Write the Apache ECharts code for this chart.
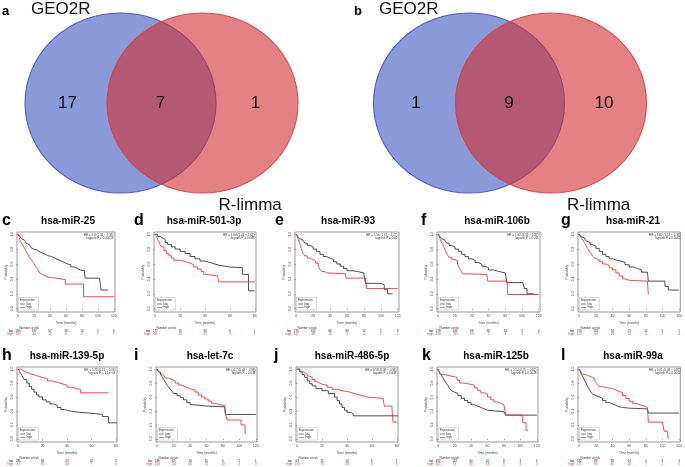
<!DOCTYPE html>
<html><head><meta charset="utf-8">
<script src="https://cdn.jsdelivr.net/npm/echarts@6/dist/echarts.min.js"></script>
<style>html,body{margin:0;padding:0;background:#fff}#chart{width:685px;height:467px}</style>
</head><body><div id="chart"></div>
<script>
// ---------------- DATA ----------------
const vennSets = ['GEO2R', 'R-limma'];
const vennA = [17, 7, 1];   // only GEO2R, both, only R-limma
const vennB = [1, 9, 10];

const ticks120 = [0, 20, 40, 60, 80, 100, 120];
const ticks80 = [0, 20, 40, 60, 80];
const probTicks = [0, 0.2, 0.4, 0.6, 0.8, 1];

const panelLetters = ['c', 'd', 'e', 'f', 'g', 'h', 'i', 'j', 'k', 'l'];
const panelTitles = ['hsa-miR-25', 'hsa-miR-501-3p', 'hsa-miR-93', 'hsa-miR-106b', 'hsa-miR-21',
  'hsa-miR-139-5p', 'hsa-let-7c', 'hsa-miR-486-5p', 'hsa-miR-125b', 'hsa-miR-99a'];
const hrLabels = ['HR = 1.8 (1.32 \u2212 2.33)', 'HR = 1.64 (1.01 \u2212 2.65)', 'HR = 1.56 (1.07 \u2212 2.27)',
  'HR = 1.62 (1.11 \u2212 2.37)', 'HR = 1.62 (1.13 \u2212 2.33)', 'HR = 0.28 (0.13 \u2212 0.59)',
  'HR = 0.7 (0.49 \u2212 0.98)', 'HR = 0.59 (0.36 \u2212 0.96)', 'HR = 0.54 (0.35 \u2212 0.82)', 'HR = 0.61 (0.43 \u2212 0.87)'];
const pLabels = ['logrank P = 0.00059', 'logrank P = 0.043', 'logrank P = 0.02', 'logrank P = 0.011',
  'logrank P = 0.0085', 'logrank P = 1.1e\u221204', 'logrank P = 0.039', 'logrank P = 0.033',
  'logrank P = 0.0038', 'logrank P = 0.0062'];

// survival curves [time (months), probability]
const survC_low = [[0,1],[2,0.97],[4,0.94],[6,0.92],[8,0.90],[10,0.88],[12,0.86],[14,0.84],[16,0.82],[18,0.80],[20,0.79],[23,0.77],[26,0.75],[30,0.73],[34,0.71],[38,0.70],[42,0.68],[46,0.66],[50,0.64],[54,0.62],[58,0.60],[62,0.59],[66,0.56],[70,0.54],[74,0.52],[78,0.51],[83,0.50],[84,0.41],[102,0.41],[104,0.25],[113,0.25]];
const survC_high = [[0,1],[1,0.96],[2,0.93],[3,0.90],[5,0.87],[7,0.83],[9,0.79],[11,0.75],[13,0.71],[15,0.68],[17,0.65],[19,0.62],[21,0.58],[23,0.55],[25,0.52],[27,0.48],[29,0.46],[31,0.44],[34,0.42],[38,0.41],[48,0.39],[59,0.33],[82,0.16],[121,0.16]];
const survD_low = [[0,1],[2,0.97],[4,0.95],[6,0.93],[8,0.89],[10,0.86],[13,0.83],[16,0.80],[20,0.77],[24,0.74],[28,0.70],[32,0.67],[36,0.64],[40,0.62],[44,0.60],[48,0.58],[52,0.56],[60,0.55],[70,0.46],[75,0.24],[80,0.24]];
const survD_high = [[0,1],[1,0.97],[2,0.93],[3,0.90],[4,0.86],[5,0.83],[7,0.78],[9,0.74],[11,0.71],[13,0.68],[15,0.65],[20,0.63],[25,0.61],[28,0.59],[31,0.56],[34,0.53],[37,0.50],[39,0.46],[41,0.44],[50,0.43],[51,0.36],[80,0.36]];
const survE_low = [[0,1],[2,0.97],[4,0.94],[6,0.92],[8,0.90],[10,0.88],[13,0.85],[16,0.83],[20,0.80],[24,0.77],[28,0.73],[32,0.70],[36,0.68],[40,0.66],[44,0.63],[48,0.60],[52,0.57],[56,0.54],[60,0.51],[66,0.50],[72,0.48],[80,0.45],[82,0.34],[100,0.32],[104,0.26],[108,0.20],[114,0.20]];
const survE_high = [[0,1],[1,0.97],[2,0.94],[3,0.91],[4,0.88],[5,0.85],[6,0.81],[7,0.77],[8,0.74],[10,0.71],[13,0.68],[16,0.66],[20,0.64],[23,0.61],[26,0.57],[28,0.53],[30,0.50],[33,0.48],[36,0.47],[58,0.47],[59,0.41],[82,0.41],[83,0.27],[120,0.27]];
const survF_low = [[0,1],[2,0.97],[4,0.94],[6,0.92],[8,0.90],[10,0.88],[13,0.85],[16,0.83],[20,0.80],[24,0.77],[28,0.73],[32,0.70],[36,0.67],[40,0.65],[44,0.62],[48,0.60],[52,0.57],[56,0.55],[60,0.52],[66,0.50],[72,0.48],[80,0.46],[82,0.35],[101,0.35],[103,0.27],[106,0.20],[114,0.20]];
const survF_high = [[0,1],[1,0.97],[2,0.94],[3,0.91],[5,0.87],[7,0.82],[9,0.77],[11,0.72],[13,0.69],[16,0.66],[20,0.64],[23,0.60],[25,0.55],[27,0.51],[29,0.47],[31,0.46],[58,0.46],[59,0.37],[82,0.37],[83,0.19],[120,0.19]];
const survG_low = [[0,1],[2,0.97],[4,0.95],[6,0.93],[8,0.91],[10,0.89],[13,0.86],[16,0.84],[20,0.81],[24,0.77],[28,0.73],[32,0.70],[36,0.67],[40,0.65],[45,0.64],[50,0.62],[55,0.59],[60,0.56],[65,0.54],[70,0.52],[75,0.49],[82,0.47],[83,0.37],[100,0.37],[103,0.30],[107,0.25],[120,0.25]];
const survG_high = [[0,1],[2,0.96],[4,0.93],[6,0.89],[8,0.85],[10,0.81],[12,0.77],[14,0.74],[16,0.71],[18,0.68],[20,0.66],[24,0.63],[28,0.60],[32,0.58],[36,0.55],[40,0.52],[44,0.48],[48,0.44],[52,0.40],[56,0.38],[60,0.37],[82,0.37],[83,0.19]];
const survH_low = [[0,1],[1,0.97],[2,0.94],[3,0.91],[4,0.88],[5,0.85],[7,0.80],[9,0.75],[11,0.71],[13,0.67],[15,0.63],[17,0.60],[20,0.56],[23,0.53],[26,0.50],[29,0.48],[32,0.45],[35,0.42],[38,0.40],[42,0.38],[50,0.37],[58,0.35],[69,0.32],[74,0.23],[81,0.23]];
const survH_high = [[0,1],[2,0.98],[4,0.96],[6,0.95],[8,0.93],[10,0.92],[13,0.90],[16,0.88],[20,0.86],[24,0.83],[28,0.81],[32,0.79],[36,0.77],[40,0.74],[44,0.72],[48,0.71],[51,0.66],[74,0.66]];
const survI_low = [[0,1],[1,0.97],[2,0.95],[4,0.92],[6,0.89],[8,0.85],[10,0.81],[12,0.77],[14,0.74],[16,0.71],[18,0.68],[20,0.65],[24,0.62],[28,0.59],[32,0.56],[36,0.52],[40,0.49],[44,0.47],[60,0.46],[82,0.46],[83,0.35],[120,0.35]];
const survI_high = [[0,1],[2,0.96],[4,0.93],[6,0.91],[8,0.89],[10,0.87],[14,0.85],[18,0.83],[22,0.80],[26,0.77],[30,0.75],[34,0.73],[38,0.71],[42,0.70],[46,0.67],[50,0.63],[54,0.60],[58,0.57],[62,0.54],[66,0.51],[70,0.49],[76,0.48],[82,0.46],[83,0.37],[85,0.27],[102,0.20],[107,0.08],[108,0.08]];
const survJ_low = [[0,1],[2,0.96],[4,0.92],[6,0.88],[8,0.83],[10,0.79],[12,0.76],[15,0.72],[20,0.69],[25,0.65],[30,0.60],[32,0.55],[34,0.50],[36,0.45],[38,0.41],[40,0.38],[43,0.36],[45,0.33],[81,0.33]];
const survJ_high = [[0,1],[2,0.97],[4,0.95],[6,0.93],[8,0.90],[10,0.88],[12,0.85],[14,0.82],[16,0.80],[18,0.78],[20,0.77],[24,0.74],[28,0.71],[32,0.69],[36,0.68],[40,0.66],[44,0.64],[48,0.62],[52,0.60],[56,0.58],[69,0.58],[70,0.47],[76,0.47],[77,0.24],[80,0.24]];
const survK_low = [[0,1],[1,0.97],[2,0.94],[4,0.91],[6,0.87],[8,0.83],[10,0.79],[12,0.76],[14,0.72],[16,0.69],[18,0.67],[20,0.65],[24,0.62],[28,0.58],[32,0.55],[36,0.52],[40,0.49],[44,0.47],[48,0.45],[52,0.43],[56,0.41],[60,0.40],[70,0.39],[80,0.38],[82,0.34],[120,0.34]];
const survK_high = [[0,1],[1,0.96],[2,0.93],[4,0.92],[8,0.91],[12,0.90],[16,0.89],[20,0.88],[23,0.84],[26,0.80],[30,0.79],[36,0.78],[40,0.77],[44,0.73],[48,0.69],[52,0.66],[56,0.64],[60,0.60],[64,0.56],[68,0.53],[72,0.51],[76,0.49],[80,0.48],[82,0.34],[102,0.34],[103,0.23],[107,0.12],[109,0.12]];
const survL_low = [[0,1],[1,0.97],[2,0.94],[4,0.90],[6,0.85],[8,0.80],[10,0.75],[12,0.71],[14,0.67],[16,0.64],[18,0.62],[20,0.60],[24,0.58],[28,0.55],[32,0.52],[36,0.50],[40,0.48],[44,0.46],[48,0.45],[52,0.44],[60,0.43],[82,0.43],[83,0.37],[120,0.37]];
const survL_high = [[0,1],[2,0.96],[4,0.93],[6,0.91],[10,0.89],[14,0.87],[18,0.84],[20,0.81],[22,0.78],[24,0.75],[28,0.73],[34,0.72],[40,0.70],[44,0.68],[48,0.66],[52,0.62],[56,0.58],[60,0.54],[64,0.51],[68,0.49],[72,0.47],[78,0.45],[82,0.44],[83,0.24],[100,0.24],[102,0.11],[106,0.11],[107,0]];

// numbers at risk
const riskC_low = [260, 137, 67, 30, 12, 5, 0];   const riskC_high = [137, 44, 17, 6, 4, 1, 1];
const riskD_low = [177, 78, 30, 6, 1];            const riskD_high = [68, 23, 13, 4, 1];
const riskE_low = [270, 132, 69, 30, 12, 5, 0];   const riskE_high = [127, 49, 15, 5, 4, 1, 1];
const riskF_low = [278, 143, 69, 30, 13, 5, 0];   const riskF_high = [119, 38, 15, 5, 4, 1, 1];
const riskG_low = [270, 118, 56, 23, 12, 5, 1];   const riskG_high = [127, 63, 28, 12, 4, 1, 0];
const riskH_low = [281, 93, 23, 10, 2];           const riskH_high = [91, 56, 30, 7, 0];
const riskI_low = [139, 65, 24, 10, 6, 2, 1];     const riskI_high = [258, 116, 60, 25, 10, 4, 0];
const riskJ_low = [63, 25, 13, 6, 1];             const riskJ_high = [170, 73, 38, 8, 1];
const riskK_low = [287, 122, 60, 20, 8, 3, 1];    const riskK_high = [105, 57, 35, 13, 8, 4, 0];
const riskL_low = [222, 89, 38, 14, 5, 3, 1];     const riskL_high = [175, 90, 40, 20, 7, 2, 0];

// ---------------- ASSEMBLY ----------------
const survLow = [survC_low, survD_low, survE_low, survF_low, survG_low, survH_low, survI_low, survJ_low, survK_low, survL_low];
const survHigh = [survC_high, survD_high, survE_high, survF_high, survG_high, survH_high, survI_high, survJ_high, survK_high, survL_high];
const riskLow = [riskC_low, riskD_low, riskE_low, riskF_low, riskG_low, riskH_low, riskI_low, riskJ_low, riskK_low, riskL_low];
const riskHigh = [riskC_high, riskD_high, riskE_high, riskF_high, riskG_high, riskH_high, riskI_high, riskJ_high, riskK_high, riskL_high];
const panelTicks = [ticks120, ticks80, ticks120, ticks120, ticks120, ticks80, ticks120, ticks80, ticks120, ticks120];

// layout (pixels)
const boxes = [
  {l:17, t:232, w:98, h:80, tx:68, lx:2},
  {l:154, t:232, w:102, h:80, tx:204, lx:134},
  {l:295, t:232, w:104, h:80, tx:348, lx:275},
  {l:437, t:232, w:103, h:80, tx:497, lx:421},
  {l:578, t:232, w:104, h:80, tx:633, lx:561},
  {l:17, t:367, w:100, h:75, tx:67, lx:2},
  {l:156, t:367, w:101, h:75, tx:210, lx:134},
  {l:296, t:367, w:102, h:75, tx:352, lx:274},
  {l:437, t:367, w:101, h:75, tx:496, lx:422},
  {l:578, t:367, w:104, h:75, tx:633, lx:561}
];

const FAM = '"Liberation Sans", Arial, sans-serif';
function txt(x, y, text, size, o) {
  o = o || {};
  const align = o.align || 'left', va = o.va || 'middle';
  return {type:'text', x:x, y:y, silent:true, z:o.z || 10, rotation:o.rot || 0,
    style:{text:text, fill:o.fill || '#000', font:(o.weight || 'normal') + ' ' + size + 'px ' + FAM,
      textAlign:align, align:align, textVerticalAlign:va, verticalAlign:va,
      lineHeight:o.lh || size * 1.1}};
}

const grids = [], xAxes = [], yAxes = [], series = [], graphics = [];
const LOW = '#222', HIGH = '#ff1a1a';
boxes.forEach((b, i) => {
  const ticks = panelTicks[i];
  const tmax = ticks[ticks.length - 1];
  grids.push({left:b.l, top:b.t, width:b.w, height:b.h, show:true, borderColor:'#555', borderWidth:0.6, backgroundColor:'rgba(0,0,0,0)'});
  xAxes.push({gridIndex:i, type:'value', min:-tmax * 0.0125, max:tmax * 1.0125,
    axisLine:{show:false}, splitLine:{show:false},
    axisTick:{show:true, customValues:ticks, length:1.5, lineStyle:{color:'#555', width:0.5}},
    axisLabel:{customValues:ticks, fontSize:3.5, color:'#444', margin:2, fontFamily:FAM},
    name:'Time (months)', nameLocation:'middle', nameGap:9.5, nameTextStyle:{fontSize:3.2, color:'#444', fontFamily:FAM}});
  yAxes.push({gridIndex:i, type:'value', min:-0.045, max:1.03,
    axisLine:{show:false}, splitLine:{show:false},
    axisTick:{show:true, customValues:probTicks, length:1.5, lineStyle:{color:'#555', width:0.5}},
    axisLabel:{customValues:probTicks, fontSize:3.5, color:'#444', margin:2.5, rotate:90, fontFamily:FAM,
      formatter:v => v.toFixed(1)},
    name:'Probability', nameLocation:'middle', nameGap:9.5, nameTextStyle:{fontSize:3.2, color:'#444', fontFamily:FAM}});
  series.push({type:'line', name:'low', xAxisIndex:i, yAxisIndex:i, data:survLow[i], step:'end', symbol:'none', silent:true,
    lineStyle:{color:LOW, width:0.8}, z:3});
  series.push({type:'line', name:'high', xAxisIndex:i, yAxisIndex:i, data:survHigh[i], step:'end', symbol:'none', silent:true,
    lineStyle:{color:HIGH, width:0.8}, z:4});

  // title and panel letter
  graphics.push(txt(b.tx, b.t - 10.5, panelTitles[i], 10, {align:'center', weight:'bold'}));
  graphics.push(txt(b.lx, b.t - 11, panelLetters[i], 16, {weight:'bold'}));
  // HR text
  graphics.push(txt(b.l + b.w - 1.5, b.t + 1.5, hrLabels[i] + '\n' + pLabels[i], 3, {align:'right', va:'top', fill:'#333', lh:3.3}));
  // legend box
  const lx = b.l + 1.5, ly = b.t + b.h - 14.5;
  graphics.push({type:'rect', silent:true, z:9, shape:{x:lx, y:ly, width:20, height:12.5}, style:{fill:'#fff', stroke:'#aaa', lineWidth:0.4}});
  graphics.push(txt(lx + 1.5, ly + 2.5, 'Expression', 3, {fill:'#333'}));
  graphics.push({type:'line', silent:true, z:10, shape:{x1:lx + 1.5, y1:ly + 6.5, x2:lx + 6.5, y2:ly + 6.5}, style:{stroke:LOW, lineWidth:0.6}});
  graphics.push({type:'line', silent:true, z:10, shape:{x1:lx + 1.5, y1:ly + 10, x2:lx + 6.5, y2:ly + 10}, style:{stroke:HIGH, lineWidth:0.6}});
  graphics.push(txt(lx + 8, ly + 6.5, 'low', 3, {fill:'#333'}));
  graphics.push(txt(lx + 8, ly + 10, 'high', 3, {fill:'#333'}));
});

// Venn diagrams
function venn(cx1, cx2, counts, labelX, letter, letterX) {
  const cy = 103, ry = 90, sx = 95.5 / 90;
  graphics.push({type:'circle', silent:true, z:1, x:cx1, y:cy, scaleX:sx, shape:{cx:0, cy:0, r:ry},
    style:{fill:'rgba(60,85,190,0.6)', stroke:'rgba(60,80,205,0.9)', lineWidth:1}});
  graphics.push({type:'circle', silent:true, z:2, x:cx2, y:cy, scaleX:sx, shape:{cx:0, cy:0, r:ry},
    style:{fill:'rgba(210,45,50,0.6)', stroke:'rgba(220,60,60,0.9)', lineWidth:1}});
  graphics.push(txt(cx1 - 53, cy, String(counts[0]), 17, {align:'center', fill:'#111', z:12}));
  graphics.push(txt((cx1 + cx2) / 2 - 1, cy, String(counts[1]), 17, {align:'center', fill:'#111', z:12}));
  graphics.push(txt(cx2 + 53, cy, String(counts[2]), 17, {align:'center', fill:'#111', z:12}));
  graphics.push(txt(labelX, 9, vennSets[0], 17, {fill:'#111', z:12}));
  graphics.push(txt(cx2 + 16, 205, vennSets[1], 17, {fill:'#111', z:12}));
  graphics.push(txt(letterX, 11, letter, 13, {weight:'bold', z:12}));
}
venn(120.5, 202.5, vennA, 31, 'a', 2);
venn(469, 551, vennB, 379, 'b', 354);

const chart = echarts.init(document.getElementById('chart'), null, {renderer:'canvas'});
chart.setOption({
  animation:false, backgroundColor:'#fff',
  grid:grids, xAxis:xAxes, yAxis:yAxes, series:series, graphic:graphics
});

// numbers at risk table, positioned through the axis scales
boxes.forEach((b, i) => {
  const ticks = panelTicks[i];
  const base = b.t + b.h;
  const x0 = chart.convertToPixel({gridIndex:i}, [0, 0])[0];
  graphics.push(txt(x0 + 11, base + 15.7, 'Number at risk', 3, {align:'center', fill:'#333'}));
  graphics.push(txt(x0 - 5, base + 18.8, 'low', 3, {align:'right', fill:'#222'}));
  graphics.push(txt(x0 - 5, base + 22, 'high', 3, {align:'right', fill:HIGH}));
  ticks.forEach((t, k) => {
    const px = chart.convertToPixel({gridIndex:i}, [t, 0])[0];
    graphics.push(txt(px, base + 18.8, String(riskLow[i][k]), 3, {align:'center', fill:'#222'}));
    graphics.push(txt(px, base + 22, String(riskHigh[i][k]), 3, {align:'center', fill:HIGH}));
  });
});
chart.setOption({graphic:graphics});
</script></body></html>
